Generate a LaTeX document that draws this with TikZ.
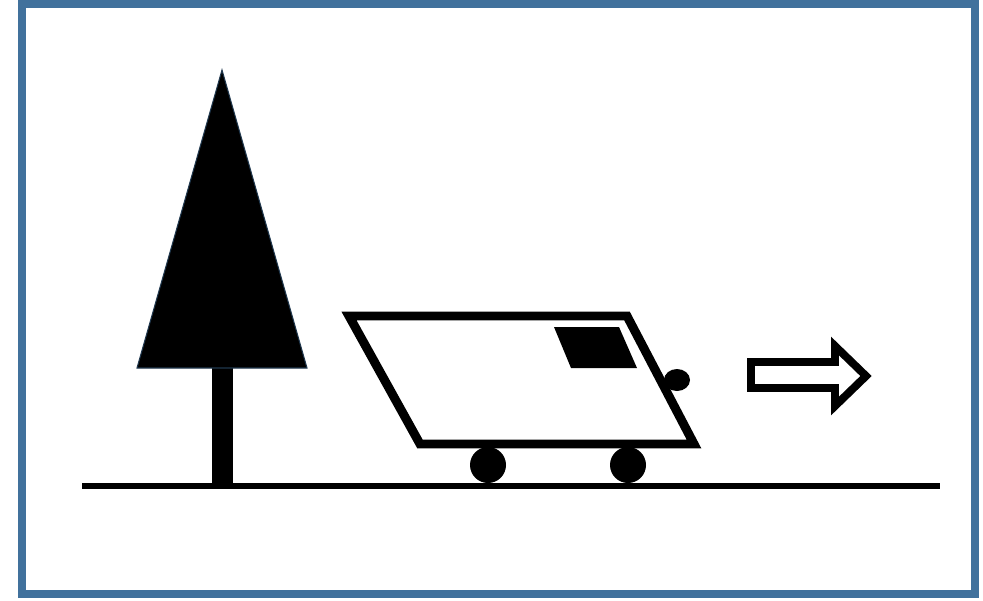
\documentclass[tikz,border=0pt]{standalone}
\usetikzlibrary{positioning}
\definecolor{frameblue}{HTML}{41719C}

\begin{document}
\begin{tikzpicture}[x=0.02cm, y=-0.02cm]
\tikzstyle{outline} = [
	draw=black, %black border
	fill=white,
	line width=5.1pt,
	line join=miter
];
\tikzstyle{solid} = [
	fill=black,
	draw=none
];

\useasboundingbox (0,0) rectangle (983,600);

%frame
\draw[frameblue, line width=4.6pt] (22,4) rectangle (975,594);

%ground
\draw[line width=3.4pt] (82,486) -- (940,486);

%tree
\begin{scope}[shift={(222,0)}]
	\fill[solid] (-10,366) rectangle (11,484);
	\filldraw[fill=black, draw=frameblue!50!black, line width=0.6pt]
		(0,70) -- (85,368) -- (-85,368) -- cycle;
\end{scope}

%car
\begin{scope}
	\fill[solid] (677,380) ellipse (13 and 11);
	\fill[solid] (488,465) circle (18);
	\fill[solid] (628,465) circle (18);
	\draw[outline] (349,316) -- (627,316) -- (694,444) -- (420,444) -- cycle;
	\fill[solid] (554,327) -- (619,327) -- (637,368) -- (571,368) -- cycle;
\end{scope}

%direction
\draw[outline, line width=4.5pt]
	(751,362) -- (835,362) -- (835,346) -- (866,376) -- (835,406)
	-- (835,388) -- (751,388) -- cycle;

\end{tikzpicture}
\end{document}
